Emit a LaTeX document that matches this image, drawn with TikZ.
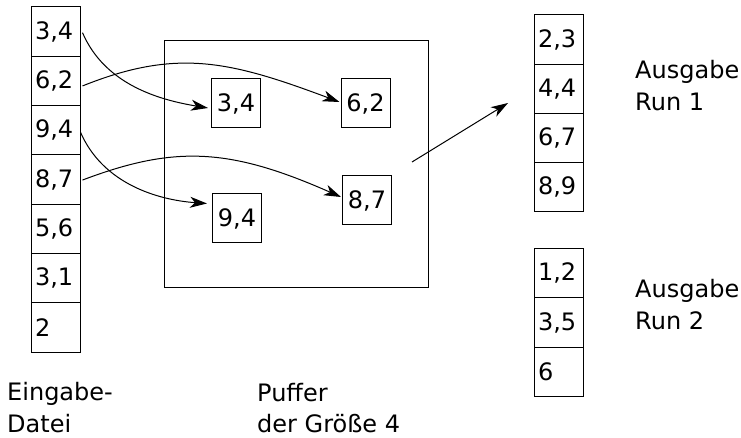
\documentclass[tikz,border=0pt]{standalone}
\usepackage{fontspec}
\setmainfont{DejaVu Sans}
\usetikzlibrary{arrows.meta}
\begin{document}
\begin{tikzpicture}[x=1pt,y=-1pt,
  every node/.style={font=\fontsize{24}{32}\selectfont},
  cell/.style={draw, line width=1pt, minimum height=49.3pt, text width=41pt,
    inner xsep=4pt, inner ysep=0pt, align=left},
  bufcell/.style={draw, line width=1pt, minimum width=49pt, minimum height=49pt, inner sep=0pt},
  label/.style={anchor=north west, inner sep=0pt, align=left},
  flow/.style={line width=1pt, -{Stealth[length=17pt,width=11pt,inset=5pt]}}]
\useasboundingbox (0,0) rectangle (741,438);
% input file
\foreach \t [count=\i from 0] in {{3,4},{6,2},{9,4},{8,7},{5,6},{3,1},{2}}
  \node[cell] (in\i) at (55.5,{31.65+49.3*\i}) {\t};
% buffer
\draw[line width=1pt] (164,41) rectangle (428,287);
\node[bufcell] (b1) at (236,103.5) {3,4};
\node[bufcell] (b2) at (365.5,103.5) {6,2};
\node[bufcell] (b3) at (237,218.5) {9,4};
\node[bufcell] (b4) at (367,200.5) {8,7};
% output run 1
\foreach \t [count=\i from 0] in {{2,3},{4,4},{6,7},{8,9}}
  \node[cell] (ra\i) at (558.5,{39.6+49.25*\i}) {\t};
% output run 2
\foreach \t [count=\i from 0] in {{1,2},{3,5},{6}}
  \node[cell] (rb\i) at (558.5,{272.8+49.7*\i}) {\t};
% labels
\node[label] (lin) at (7,382) {Eingabe-\\Datei};
\node[label, font=\fontsize{24}{31}\selectfont] (lbuf) at (257,383) {Puffer\\der Größe 4};
\node[label] (lr1) at (635,60) {Ausgabe\\Run 1};
\node[label] (lr2) at (635,279) {Ausgabe\\Run 2};
% arrows
\draw[flow] ([shift={(2,1)}]in0.east) .. controls (105,85) and (160,100) .. ([shift={(-3,4.5)}]b1.west);
\draw[flow] ([shift={(2,5)}]in1.east) .. controls (177,48) and (230,61) .. ([shift={(-1,-1.5)}]b2.west);
\draw[flow] ([shift={(0,2)}]in2.east) .. controls (103,184) and (158,200) .. ([shift={(-5,-15)}]b3.west);
\draw[flow] ([shift={(2,0.5)}]in3.east) .. controls (175,145) and (230,148) .. ([shift={(-1,-3.5)}]b4.west);
\coordinate (o1) at (412,162);
\coordinate (o2) at (508,103);
\draw[flow] (o1) -- (o2);
\end{tikzpicture}
\end{document}
